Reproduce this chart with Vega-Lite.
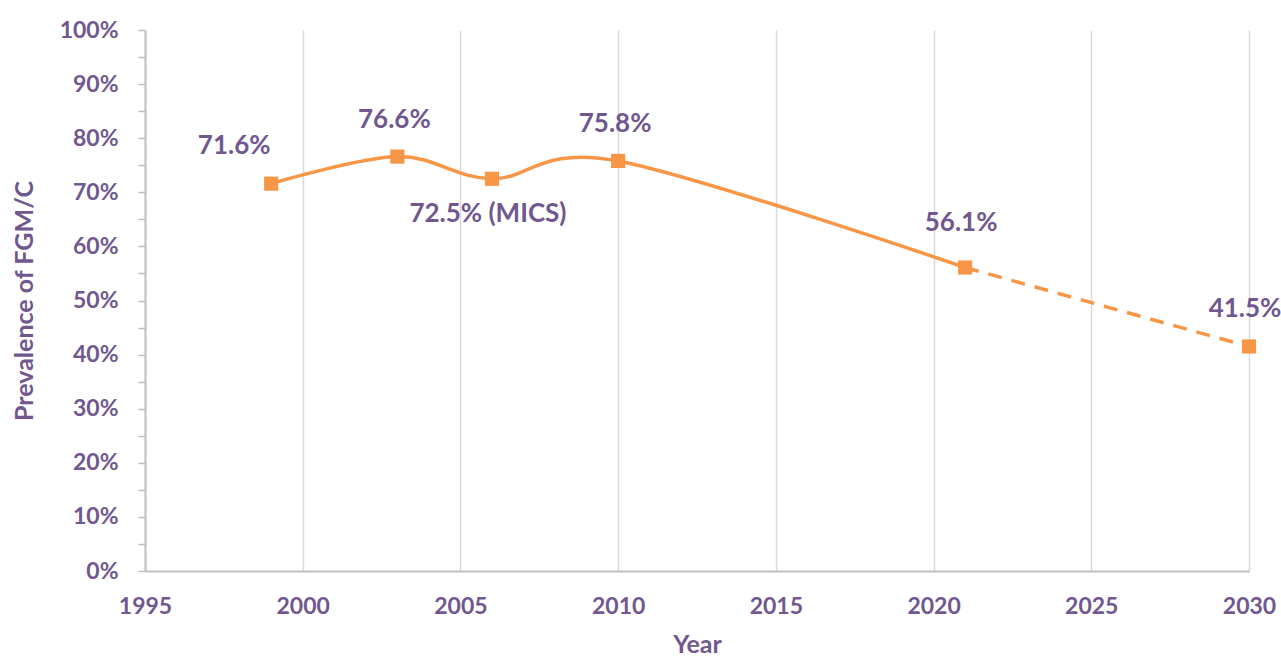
{
  "$schema": "https://vega.github.io/schema/vega-lite/v6.json",
  "width": 1104,
  "height": 541,
  "autosize": {"type": "none"},
  "padding": {"left": 145, "top": 30, "right": 32, "bottom": 86},
  "background": "white",
  "config": {
    "view": {"stroke": null},
    "font": "Lato",
    "axis": {"labelFont": "Lato", "titleFont": "Lato", "labelColor": "#70588F", "titleColor": "#70588F", "labelFontWeight": "bold", "titleFontWeight": "bold"}
  },
  "data": {
    "values": [
      {"year": 1999, "value": 0.716, "label": "71.6%"},
      {"year": 2003, "value": 0.766, "label": "76.6%"},
      {"year": 2006, "value": 0.725, "label": "72.5% (MICS)"},
      {"year": 2010, "value": 0.758, "label": "75.8%"},
      {"year": 2021, "value": 0.561, "label": "56.1%"},
      {"year": 2030, "value": 0.415, "label": "41.5%"}
    ]
  },
  "encoding": {
    "x": {
      "field": "year", "type": "quantitative",
      "scale": {"domain": [1995, 2030], "zero": false, "nice": false},
      "axis": {
        "values": [1995, 2000, 2005, 2010, 2015, 2020, 2025, 2030],
        "format": "d", "grid": true, "gridColor": "#D9D9D9", "gridWidth": 1.5,
        "ticks": false, "domainColor": "#BFBFBF", "domainWidth": 2,
        "labelFontSize": 23, "labelPadding": 24, "labelFlush": false, "labelOverlap": false,
        "title": "Year", "titleFontSize": 25, "titlePadding": 14
      }
    },
    "y": {
      "field": "value", "type": "quantitative",
      "scale": {"domain": [0, 1], "nice": false},
      "axis": {
        "values": [0, 0.05, 0.1, 0.15, 0.2, 0.25, 0.3, 0.35, 0.4, 0.45, 0.5, 0.55, 0.6, 0.65, 0.7, 0.75, 0.8, 0.85, 0.9, 0.95, 1],
        "labelExpr": "round(datum.value*100) % 10 == 0 ? format(datum.value, '.0%') : ''",
        "grid": false, "ticks": true, "tickSize": 7, "tickColor": "#BFBFBF", "tickWidth": 1.5,
        "domainColor": "#BFBFBF", "domainWidth": 2,
        "labelFontSize": 23, "labelPadding": 20, "labelOverlap": false, "labelFlush": false,
        "title": "Prevalence of FGM/C", "titleFontSize": 25, "titlePadding": 22
      }
    }
  },
  "layer": [
    {
      "transform": [{"filter": "datum.year <= 2021"}],
      "mark": {"type": "line", "interpolate": "cardinal", "tension": 0, "color": "#F79646", "strokeWidth": 3.5}
    },
    {
      "transform": [{"filter": "datum.year >= 2021"}],
      "mark": {"type": "line", "color": "#F79646", "strokeWidth": 3.5, "strokeDash": [14, 10]}
    },
    {
      "mark": {"type": "square", "color": "#F79646", "opacity": 1, "filled": true, "size": 200}
    },
    {
      "transform": [{"filter": "datum.year == 1999"}],
      "mark": {"type": "text", "font": "Lato", "fontWeight": "bold", "fontSize": 26, "color": "#70588F", "baseline": "middle", "dx": -37, "dy": -38},
      "encoding": {"text": {"field": "label"}}
    },
    {
      "transform": [{"filter": "datum.year == 2003 || datum.year == 2010"}],
      "mark": {"type": "text", "font": "Lato", "fontWeight": "bold", "fontSize": 26, "color": "#70588F", "baseline": "middle", "dx": -3, "dy": -37},
      "encoding": {"text": {"field": "label"}}
    },
    {
      "transform": [{"filter": "datum.year == 2006"}],
      "mark": {"type": "text", "font": "Lato", "fontWeight": "bold", "fontSize": 26, "color": "#70588F", "baseline": "middle", "dx": -4, "dy": 35},
      "encoding": {"text": {"field": "label"}}
    },
    {
      "transform": [{"filter": "datum.year == 2021"}],
      "mark": {"type": "text", "font": "Lato", "fontWeight": "bold", "fontSize": 26, "color": "#70588F", "baseline": "middle", "dx": -4, "dy": -44},
      "encoding": {"text": {"field": "label"}}
    },
    {
      "transform": [{"filter": "datum.year == 2030"}],
      "mark": {"type": "text", "font": "Lato", "fontWeight": "bold", "fontSize": 26, "color": "#70588F", "baseline": "middle", "dx": -4, "dy": -37},
      "encoding": {"text": {"field": "label"}}
    }
  ]
}
